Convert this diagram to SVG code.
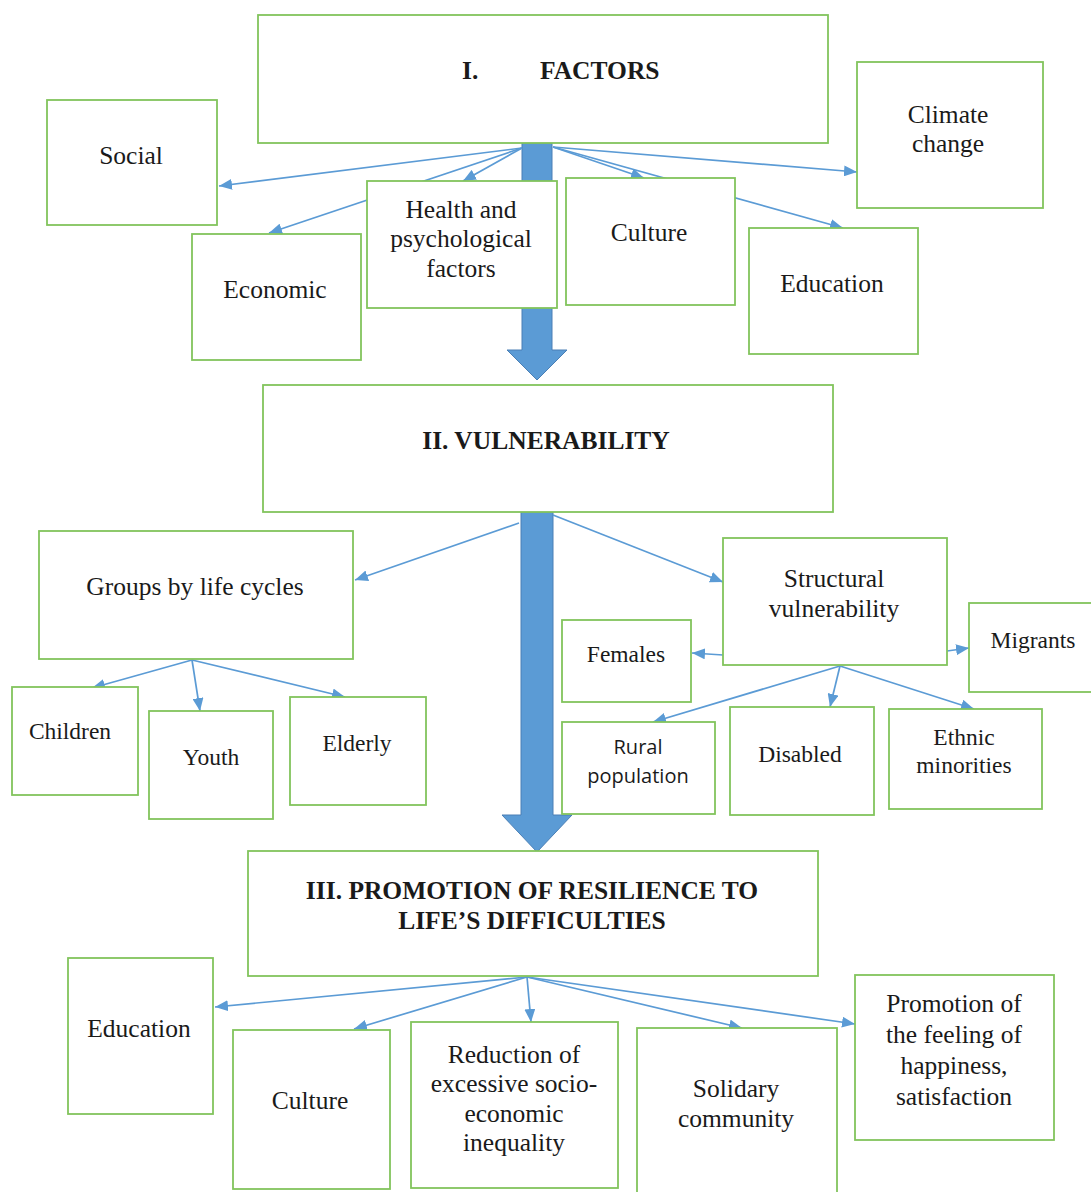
<svg xmlns="http://www.w3.org/2000/svg" width="1091" height="1192" viewBox="0 0 1091 1192">
<style>
.box{fill:#ffffff;stroke:#82c45c;stroke-width:1.8}
.t{font-family:"Liberation Serif","Times New Roman",serif;font-size:25.5px;fill:#1a1a1a;text-anchor:middle}
.s{font-family:"Liberation Serif","Times New Roman",serif;font-size:23.5px;fill:#1a1a1a;text-anchor:middle}
.b{font-family:"Liberation Serif","Times New Roman",serif;font-size:25.5px;font-weight:bold;fill:#1a1a1a;text-anchor:middle}
.ss{font-family:"Open Sans","Noto Sans",sans-serif;font-size:20px;fill:#1a1a1a;text-anchor:middle}
.c{fill:none;stroke:#5b9bd5;stroke-width:1.7;marker-end:url(#ah)}
.big{fill:#5b9bd5;stroke:#4a7fb5;stroke-width:1}
</style>
<defs>
<marker id="ah" markerUnits="userSpaceOnUse" markerWidth="13" markerHeight="11" refX="13" refY="5.5" orient="auto">
<path d="M0,0 L13,5.5 L0,11 Z" fill="#5b9bd5"/>
</marker>
</defs>
<rect width="1091" height="1192" fill="#ffffff"/>
<g id="connectors">
<path class="big" d="M522,143 L552,143 L552,350 L567,350 L537,380 L507,350 L522,350 Z"/>
<path class="big" d="M521,512 L553,512 L553,815 L572,815 L537,852 L502,815 L521,815 Z"/>
<line class="c" x1="522" y1="148" x2="219" y2="186"/>
<line class="c" x1="522" y1="148" x2="269" y2="233"/>
<line class="c" x1="522" y1="148" x2="463" y2="181"/>
<line class="c" x1="553" y1="147" x2="644" y2="178"/>
<line class="c" x1="553" y1="147" x2="843" y2="228"/>
<line class="c" x1="553" y1="147" x2="857" y2="172"/>
<line class="c" x1="519" y1="523" x2="355" y2="580"/>
<line class="c" x1="553" y1="515" x2="723" y2="582"/>
<line class="c" x1="192" y1="660" x2="92" y2="688"/>
<line class="c" x1="192" y1="660" x2="200" y2="711"/>
<line class="c" x1="192" y1="660" x2="345" y2="697"/>
<line class="c" x1="723" y1="655" x2="692" y2="653"/>
<line class="c" x1="947" y1="651" x2="969" y2="648"/>
<line class="c" x1="840" y1="666" x2="653" y2="722"/>
<line class="c" x1="840" y1="666" x2="830" y2="707"/>
<line class="c" x1="840" y1="666" x2="974" y2="709"/>
<line class="c" x1="527" y1="977" x2="215" y2="1007"/>
<line class="c" x1="527" y1="977" x2="354" y2="1029"/>
<line class="c" x1="527" y1="977" x2="531" y2="1022"/>
<line class="c" x1="527" y1="977" x2="742" y2="1028"/>
<line class="c" x1="527" y1="977" x2="855" y2="1024"/>
</g>
<g id="factors">
<rect class="box" x="258" y="15" width="570" height="128"/>
<text class="b" style="text-anchor:start" y="79"><tspan x="462">I.</tspan><tspan x="540">FACTORS</tspan></text>
</g>
<g id="social">
<rect class="box" x="47" y="100" width="170" height="125"/>
<text class="t" x="131" y="164">Social</text>
</g>
<g id="climate">
<rect class="box" x="857" y="62" width="186" height="146"/>
<text class="t" x="948" y="123">Climate</text>
<text class="t" x="948" y="152">change</text>
</g>
<g id="economic">
<rect class="box" x="192" y="234" width="169" height="126"/>
<text class="t" x="275" y="298">Economic</text>
</g>
<g id="health">
<rect class="box" x="367" y="181" width="190" height="127"/>
<text class="t" x="461" y="218">Health and</text>
<text class="t" x="461" y="247">psychological</text>
<text class="t" x="461" y="277">factors</text>
</g>
<g id="culture-top">
<rect class="box" x="566" y="178" width="169" height="127"/>
<text class="t" x="649" y="241">Culture</text>
</g>
<g id="education-top">
<rect class="box" x="749" y="228" width="169" height="126"/>
<text class="t" x="832" y="292">Education</text>
</g>
<g id="vulnerability">
<rect class="box" x="263" y="385" width="570" height="127"/>
<text class="b" x="546" y="449">II. VULNERABILITY</text>
</g>
<g id="groups">
<rect class="box" x="39" y="531" width="314" height="128"/>
<text class="t" x="195" y="595">Groups by life cycles</text>
</g>
<g id="children">
<rect class="box" x="12" y="687" width="126" height="108"/>
<text class="s" x="70" y="739">Children</text>
</g>
<g id="youth">
<rect class="box" x="149" y="711" width="124" height="108"/>
<text class="s" x="211" y="765">Youth</text>
</g>
<g id="elderly">
<rect class="box" x="290" y="697" width="136" height="108"/>
<text class="s" x="357" y="751">Elderly</text>
</g>
<g id="structural">
<rect class="box" x="723" y="538" width="224" height="127"/>
<text class="t" x="834" y="587">Structural</text>
<text class="t" x="834" y="617">vulnerability</text>
</g>
<g id="females">
<rect class="box" x="562" y="620" width="129" height="82"/>
<text class="s" x="626" y="662">Females</text>
</g>
<g id="migrants">
<rect class="box" x="969" y="603" width="124" height="89"/>
<text class="s" x="1033" y="648">Migrants</text>
</g>
<g id="rural">
<rect class="box" x="562" y="722" width="153" height="92"/>
<text class="ss" x="638" y="754">Rural</text>
<text class="ss" x="638" y="783">population</text>
</g>
<g id="disabled">
<rect class="box" x="730" y="707" width="144" height="108"/>
<text class="s" x="800" y="762">Disabled</text>
</g>
<g id="ethnic">
<rect class="box" x="889" y="709" width="153" height="100"/>
<text class="s" x="964" y="745">Ethnic</text>
<text class="s" x="964" y="773">minorities</text>
</g>
<g id="promotion">
<rect class="box" x="248" y="851" width="570" height="125"/>
<text class="b" x="532" y="899">III. PROMOTION OF RESILIENCE TO</text>
<text class="b" x="532" y="929">LIFE’S DIFFICULTIES</text>
</g>
<g id="education-bottom">
<rect class="box" x="68" y="958" width="145" height="156"/>
<text class="t" x="139" y="1037">Education</text>
</g>
<g id="culture-bottom">
<rect class="box" x="233" y="1030" width="157" height="159"/>
<text class="t" x="310" y="1109">Culture</text>
</g>
<g id="reduction">
<rect class="box" x="411" y="1022" width="207" height="166"/>
<text class="t" x="514" y="1063">Reduction of</text>
<text class="t" x="514" y="1092">excessive socio-</text>
<text class="t" x="514" y="1122">economic</text>
<text class="t" x="514" y="1151">inequality</text>
</g>
<g id="solidary">
<rect class="box" x="637" y="1028" width="200" height="170"/>
<text class="t" x="736" y="1097">Solidary</text>
<text class="t" x="736" y="1127">community</text>
</g>
<g id="happiness">
<rect class="box" x="855" y="975" width="199" height="165"/>
<text class="t" x="954" y="1012">Promotion of</text>
<text class="t" x="954" y="1043">the feeling of</text>
<text class="t" x="954" y="1074">happiness,</text>
<text class="t" x="954" y="1105">satisfaction</text>
</g>
</svg>
